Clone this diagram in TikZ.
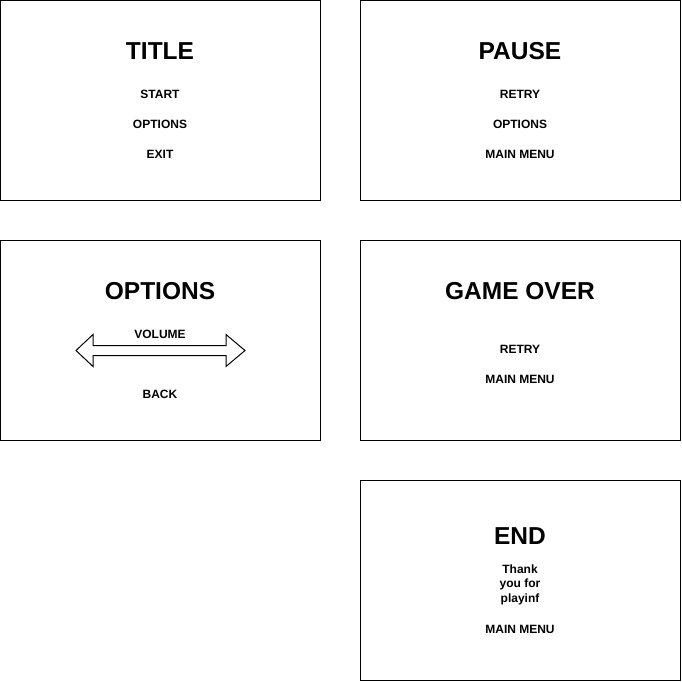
\documentclass[tikz,border=0pt]{standalone}
\usepackage{fontspec}
\setmainfont{Liberation Sans}
\begin{document}
\begin{tikzpicture}[x=1pt,y=-1pt,
  screen/.style={draw=black,line width=1pt,fill=white},
  heading/.style={font=\fontsize{24.5}{28}\selectfont\bfseries,inner sep=0pt},
  item/.style={font=\fontsize{12}{14.5}\selectfont\bfseries,inner sep=0pt,align=center}]
\useasboundingbox (0,0) rectangle (682,681);
\draw[screen] (0.5,0.5) rectangle (320.5,200.5);
\draw[screen] (360.5,0.5) rectangle (680.5,200.5);
\draw[screen] (0.5,240.5) rectangle (320.5,440.5);
\draw[screen] (360.5,240.5) rectangle (680.5,440.5);
\draw[screen] (360.5,480.5) rectangle (680.5,680.5);
% TITLE
\node[heading] (t1) at (160,51) {TITLE};
\node[item] (t2) at (160,94.5) {START};
\node[item] (t3) at (160,124.5) {OPTIONS};
\node[item] (t4) at (160,154.5) {EXIT};
% PAUSE
\node[heading] (p1) at (520,51) {PAUSE};
\node[item] (p2) at (520,94.5) {RETRY};
\node[item] (p3) at (520,124.5) {OPTIONS};
\node[item] (p4) at (520,154.5) {MAIN MENU};
% OPTIONS
\node[heading] (o1) at (160,291) {OPTIONS};
\draw[line width=1pt,fill=white,line join=miter]
  (76,350.5) -- (93,334.5) -- (93,345.5) -- (226,345.5) -- (226,334.5) -- (245,350.5)
  -- (226,366.5) -- (226,355.5) -- (93,355.5) -- (93,366.5) -- cycle;
\node[item] (o2) at (160,334.5) {VOLUME};
\node[item] (o3) at (160,394.5) {BACK};
% GAME OVER
\node[heading] (g1) at (520,291) {GAME OVER};
\node[item] (g2) at (520,349.5) {RETRY};
\node[item] (g3) at (520,379.5) {MAIN MENU};
% END
\node[heading] (e1) at (520,536) {END};
\node[item] (e2) at (520,584.5) {Thank\\you for\\playinf};
\node[item] (e3) at (520,629.5) {MAIN MENU};
\end{tikzpicture}
\end{document}
